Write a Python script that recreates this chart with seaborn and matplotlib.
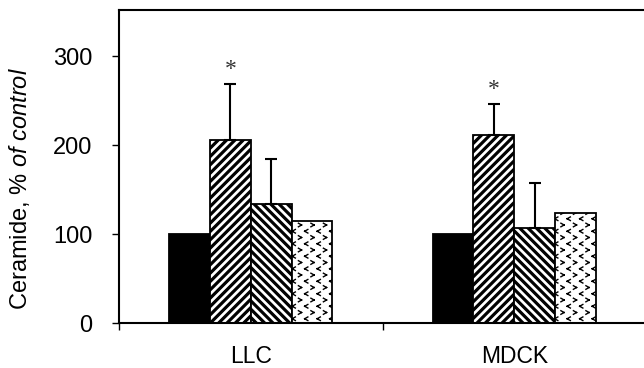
import matplotlib
matplotlib.use("Agg")
import matplotlib.pyplot as plt
import matplotlib.hatch as mhatch
from matplotlib.path import Path
import numpy as np
import pandas as pd
import seaborn as sns

# ---- data ----
cells = ["LLC", "MDCK"]
treatments = ["Control", "Treatment A", "Treatment B", "Treatment C"]
llc_values = [100, 206, 134, 115]
mdck_values = [100, 211, 107, 124]
llc_err = [0, 63, 50, 0]
mdck_err = [0, 35, 50, 0]
llc_sig = [False, True, False, False]
mdck_sig = [False, True, False, False]
y_ticks = [0, 100, 200, 300]


# ---- custom hatch textures (thick diagonal bands, small chevrons) ----
class BandHatch(mhatch.HatchPatternBase):
    char = "/"
    sign = 1
    n_per = 12
    half = 0.0125

    def __init__(self, hatch, density):
        self.active = hatch.count(self.char) > 0
        self.ks = list(range(-self.n_per - 1, 2 * self.n_per + 2)) if self.active else []
        self.num_vertices = len(self.ks) * 5

    def set_vertices_and_codes(self, vertices, codes):
        x0, x1 = -0.05, 1.05
        h = self.half
        s = self.sign
        k = 0
        for kk in self.ks:
            c = kk / self.n_per
            pts = [(x0, s * x0 + c - h), (x1, s * x1 + c - h),
                   (x1, s * x1 + c + h), (x0, s * x0 + c + h), (x0, s * x0 + c - h)]
            vertices[k:k + 5] = pts
            codes[k:k + 5] = [Path.MOVETO, Path.LINETO, Path.LINETO,
                              Path.LINETO, Path.CLOSEPOLY]
            k += 5


class NEBand(BandHatch):
    char = "/"
    sign = 1


class SEBand(BandHatch):
    char = "\\"
    sign = -1


class ChevronHatch(mhatch.HatchPatternBase):
    rows = 16
    cols = 8
    half_w = 0.016
    half_h = 0.018

    def __init__(self, hatch, density):
        self.active = hatch.count("*") > 0
        n = 0
        if self.active:
            for r in range(self.rows + 1):
                n += (self.cols + 1) if r % 2 == 0 else self.cols
        self.num_vertices = n * 4

    def set_vertices_and_codes(self, vertices, codes):
        k = 0
        for r in range(self.rows + 1):
            y = r / self.rows
            if r % 2 == 0:
                xs = [c / self.cols for c in range(self.cols + 1)]
                d = 1
            else:
                xs = [(c + 0.5) / self.cols for c in range(self.cols)]
                d = -1
            for x in xs:
                p0 = (x - d * self.half_w, y - self.half_h)
                p1 = (x + d * self.half_w, y)
                p2 = (x - d * self.half_w, y + self.half_h)
                vertices[k:k + 4] = [p0, p1, p2, p1]
                codes[k:k + 4] = [Path.MOVETO, Path.LINETO, Path.MOVETO, Path.LINETO]
                k += 4


mhatch._hatch_types = [mhatch.HorizontalHatch, mhatch.VerticalHatch, NEBand, SEBand,
                       mhatch.SmallCircles, mhatch.LargeCircles,
                       mhatch.SmallFilledCircles, ChevronHatch]

sns.set_theme(style="white")
plt.rcParams["font.family"] = ["Liberation Sans", "DejaVu Sans"]
plt.rcParams["mathtext.fontset"] = "custom"
plt.rcParams["mathtext.rm"] = "Liberation Sans"
plt.rcParams["mathtext.it"] = "Liberation Sans:italic"
plt.rcParams["hatch.linewidth"] = 1.0
plt.rcParams["hatch.color"] = "black"
plt.rcParams["text.color"] = "black"
plt.rcParams["xtick.color"] = "black"
plt.rcParams["ytick.color"] = "black"
plt.rcParams["axes.labelcolor"] = "black"

rows = []
for cell, vals, errs, sigs in [("LLC", llc_values, llc_err, llc_sig),
                               ("MDCK", mdck_values, mdck_err, mdck_sig)]:
    for t, v, e, s in zip(treatments, vals, errs, sigs):
        rows.append({"cell": cell, "treatment": t, "value": v, "err": e, "sig": s})
df = pd.DataFrame(rows)

fig = plt.figure(figsize=(6.44, 3.68), dpi=100)
ax = fig.add_axes([119 / 644, 45 / 368, 527 / 644, 313 / 368])

sns.barplot(data=df, x="cell", y="value", hue="treatment", order=cells,
            hue_order=treatments,
            palette=["black", "white", "white", "white"],
            edgecolor="black", linewidth=1.3, width=0.62, errorbar=None,
            legend=False, ax=ax, saturation=1)

hatches = [None, "/", "\\", "*"]
bar_containers = list(ax.containers)
for i, cont in enumerate(bar_containers):
    for j, bar in enumerate(cont):
        if hatches[i]:
            bar.set_hatch(hatches[i])
        sub = df[(df.cell == cells[j]) & (df.treatment == treatments[i])].iloc[0]
        xc = bar.get_x() + bar.get_width() / 2
        h = bar.get_height()
        if sub.err > 0:
            ax.errorbar(xc, h, yerr=[[0], [sub.err]], fmt="none", ecolor="black",
                        elinewidth=1.5, capsize=4.3, capthick=1.5, zorder=1)
        if sub.sig:
            ax.annotate("*", xy=(xc, h + sub.err), xytext=(0, 3),
                        textcoords="offset points", ha="center", va="bottom",
                        fontsize=17, family="Liberation Serif", color="#333333")

ax.set_xlim(-0.5, 1.5)
ax.set_ylim(0, 352)
ax.set_yticks(y_ticks)
ax.set_xticks([0, 1], cells)
ax.set_xticks([-0.5, 0.5, 1.5], minor=True)
ax.tick_params(axis="x", which="major", length=0, pad=15.5, labelsize=16.5)
ax.tick_params(axis="x", which="minor", length=5, width=1, direction="out",
               bottom=True)
ax.tick_params(axis="y", length=5, width=1, direction="out", pad=14,
               labelsize=17, left=True)
ax.set_xlabel("")
ax.set_ylabel(r"Ceramide, $\mathit{\%\ of\ control}$", fontsize=17)
ax.yaxis.set_label_coords(-0.165, 0.43)

for s in ["left", "top", "bottom"]:
    ax.spines[s].set_visible(True)
    ax.spines[s].set_color("black")
    ax.spines[s].set_linewidth(1.5)
ax.spines["right"].set_visible(False)

fig.savefig("out.png", dpi=100)
